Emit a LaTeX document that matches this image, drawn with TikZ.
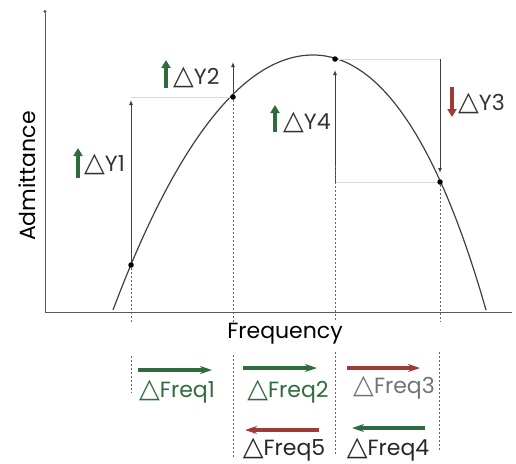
\documentclass[tikz,border=0pt]{standalone}
\usepackage{fontspec}
\setmainfont{Poppins}
\newfontfamily\symfont{DejaVu Sans}
\usetikzlibrary{arrows.meta}
\definecolor{upgreen}{RGB}{46,107,62}
\definecolor{downred}{RGB}{160,58,52}
\newcommand{\dtri}{{\symfont\fontsize{27}{27}\selectfont\char"25B3}}

\begin{document}
\begin{tikzpicture}
[x=1pt, y=-1pt, font=\fontsize{22}{26}\selectfont]
\tikzstyle{dot}=[circle, fill=black, inner sep=0mm, minimum size=5.5pt]
\tikzstyle{axis}=[draw=black!65, line width=0.9pt]
\tikzstyle{curve}=[draw=black!75, line width=1.2pt]
\tikzstyle{delta}=[draw=black!75, line width=1pt, -{Latex[length=5pt,width=4pt]}]
\tikzstyle{guide}=[draw=black!15, line width=1pt]
\tikzstyle{drop}=[draw=black!60, line width=1pt, dash pattern=on 2pt off 2pt]
\tikzstyle{fatup}=[line width=4pt, -{Triangle[length=8pt,width=9pt]}]
\tikzstyle{fatside}=[line width=3.5pt, -{Stealth[length=12pt,width=8pt]}]
\tikzstyle{lab}=[inner sep=0pt, anchor=west, text=black!80]
\useasboundingbox (0,0) rectangle (516,463);

% axes
\coordinate (ytop) at (45,10);
\coordinate (orig) at (45,312);
\coordinate (xend) at (512,312);
\coordinate (base) at (0,322);
\draw[axis, {Circle[length=3pt]}-] (ytop) -- (orig) -- (xend);
\node[rotate=90]	(ylab)	at (27,176)	{Admittance};
\node				(xlab)	at (285,334)	{Frequency};

% admittance curve
\coordinate (cstart)	at (113,310);
\coordinate (cpeak)		at (313,55);
\coordinate (cend)		at (486,310);
\draw[curve] (cstart) .. controls (178,137) and (246,55) .. (cpeak)
                      .. controls (390,55) and (446,170) .. (cend);
\node[dot]	(P1)	at (131,265)	{};
\node[dot]	(P2)	at (233,97)		{};
\node[dot]	(P4)	at (335,59)		{};
\node[dot]	(P3)	at (440,182)	{};

% delta Y
\coordinate (Y1top)	at (131,100);
\coordinate (Y2top)	at (233,62);
\coordinate (Y4top)	at (335,70);
\coordinate (Y4bot)	at (P4 |- P3);
\coordinate (Y3top)	at (P3 |- P4);
\coordinate (Y3bot)	at (440,173);
\draw[guide] (P1 |- P2) -- (P2);
\draw[guide] (P4) -- (Y3top);
\draw[guide] (Y4bot) -- (P3);
\draw[delta] (P1) -- (Y1top);
\draw[delta] (P2) -- (Y2top);
\draw[delta] (Y4bot) -- (Y4top);
\draw[delta] (Y3top) -- (Y3bot);

% drop lines
\draw[drop] (P1) -- (P1 |- base);
\draw[drop] (P2) -- (P2 |- base);
\draw[drop] ([yshift=16]Y4bot) -- (Y4bot |- base);
\draw[drop] (P3) -- (P3 |- base);
\foreach \x/\a/\b in {131/356/393, 233/355/457, 335/352/455, 439/352/450}
  \draw[drop] (\x,\a) -- (\x,\b);

\node[lab]	(dy1)	at (84,164)		{\dtri Y1};
\node[lab]	(dy2)	at (173,77)		{\dtri Y2};
\node[lab]	(dy4)	at (283,122)	{\dtri Y4};
\node[lab]	(dy3)	at (458,103)	{\dtri Y3};
\draw[fatup, upgreen]	([shift={(-6,14)}]dy1.west) -- ([shift={(-6,-16)}]dy1.west);
\draw[fatup, upgreen]	([shift={(-7,11)}]dy2.west) -- ([shift={(-7,-17)}]dy2.west);
\draw[fatup, upgreen]	([shift={(-8,10)}]dy4.west) -- ([shift={(-8,-17)}]dy4.west);
\draw[fatup, downred]	([shift={(-6,-16)}]dy3.west) -- ([shift={(-6,14)}]dy3.west);

% delta Freq
\node[text=upgreen]		(fq1)	at (177,392)	{\dtri Freq1};
\node[text=upgreen]		(fq2)	at (288,392)	{\dtri Freq2};
\node[text=black!55]	(fq3)	at (394,388)	{\dtri Freq3};
\node[text=black!85]	(fq5)	at (284,450)	{\dtri Freq5};
\node[text=black!85]	(fq4)	at (388,450)	{\dtri Freq4};
\coordinate (f1s) at (138,370);	\coordinate (f1e) at (212,370);
\coordinate (f2s) at (243,368);	\coordinate (f2e) at (317,368);
\coordinate (f3s) at (347,368);	\coordinate (f3e) at (420,368);
\coordinate (f5s) at (319,430);	\coordinate (f5e) at (245,430);
\coordinate (f4s) at (425,428);	\coordinate (f4e) at (352,428);
\draw[fatside, upgreen]	(f1s) -- (f1e);
\draw[fatside, upgreen]	(f2s) -- (f2e);
\draw[fatside, downred]	(f3s) -- (f3e);
\draw[fatside, downred]	(f5s) -- (f5e);
\draw[fatside, upgreen]	(f4s) -- (f4e);
\end{tikzpicture}
\end{document}
